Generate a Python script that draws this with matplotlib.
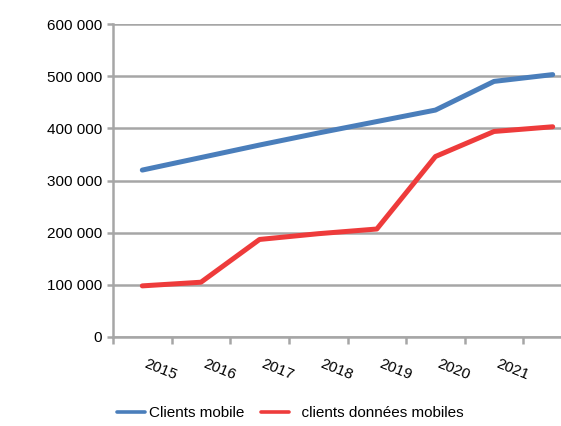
import matplotlib
matplotlib.use("Agg")
import matplotlib.pyplot as plt
import matplotlib.transforms as mtransforms
from matplotlib.ticker import FuncFormatter

years = ["2015", "2016", "2017", "2018", "2019", "2020", "2021", ""]
clients_mobile = [320000, 344000, 368000, 391000, 413000, 435000, 490000, 503000]
clients_donnees = [98000, 105000, 187000, 198000, 207000, 346000, 394000, 403000]
yticks = [0, 100000, 200000, 300000, 400000, 500000, 600000]

W, H = 561, 426
fig = plt.figure(figsize=(W / 100, H / 100), dpi=100)
plt.rcParams['font.family'] = ['Liberation Sans', 'DejaVu Sans']
FS = 11

left, right, top, bottom = 113, 582, 24, 337
ax = fig.add_axes([left / W, 1 - bottom / H, (right - left) / W, (bottom - top) / H])

grid_c = '#a6a6a6'
x = list(range(len(years)))
ax.plot(x, clients_mobile, color='#4a7ebb', lw=3.6, solid_capstyle='round', label='Clients mobile', zorder=3)
ax.plot(x, clients_donnees, color='#ee3b3b', lw=3.6, solid_capstyle='round', label='  clients données mobiles', zorder=3)

ax.set_xlim(-0.5, len(years) - 0.5)
ax.set_ylim(0, 600000)
ax.set_yticks(yticks)
ax.yaxis.set_major_formatter(FuncFormatter(lambda v, p: f"{int(v):,}".replace(",", " ")))
ax.grid(axis='y', color=grid_c, lw=1.8)
ax.set_axisbelow(True)

for s in ['top', 'right']:
    ax.spines[s].set_visible(False)
for s in ['left', 'bottom']:
    ax.spines[s].set_color(grid_c)
    ax.spines[s].set_linewidth(1.8)

ax.tick_params(axis='y', length=4, width=1.8, color=grid_c, labelsize=FS, pad=4, labelcolor='black')
ax.set_xticks([i - 0.5 for i in range(len(years) + 1)])
ax.set_xticklabels([])
ax.tick_params(axis='x', length=5, width=1.8, color=grid_c)

trans = mtransforms.blended_transform_factory(ax.transData, ax.transAxes)
off = mtransforms.ScaledTranslation(0, -20 / 100, fig.dpi_scale_trans)
for i, lab in enumerate(years):
    if lab:
        ax.text(i, 0, lab, transform=trans + off, rotation=-22, ha='left', va='top', fontsize=FS)

leg = fig.legend(loc='center', bbox_to_anchor=(290 / W, 1 - 413 / H), ncol=2, frameon=False,
                 fontsize=FS, handlelength=1.85, handletextpad=0.25, columnspacing=1.1)
for h in leg.get_lines():
    h.set_linewidth(2.6)

fig.savefig('out.png', dpi=100)
